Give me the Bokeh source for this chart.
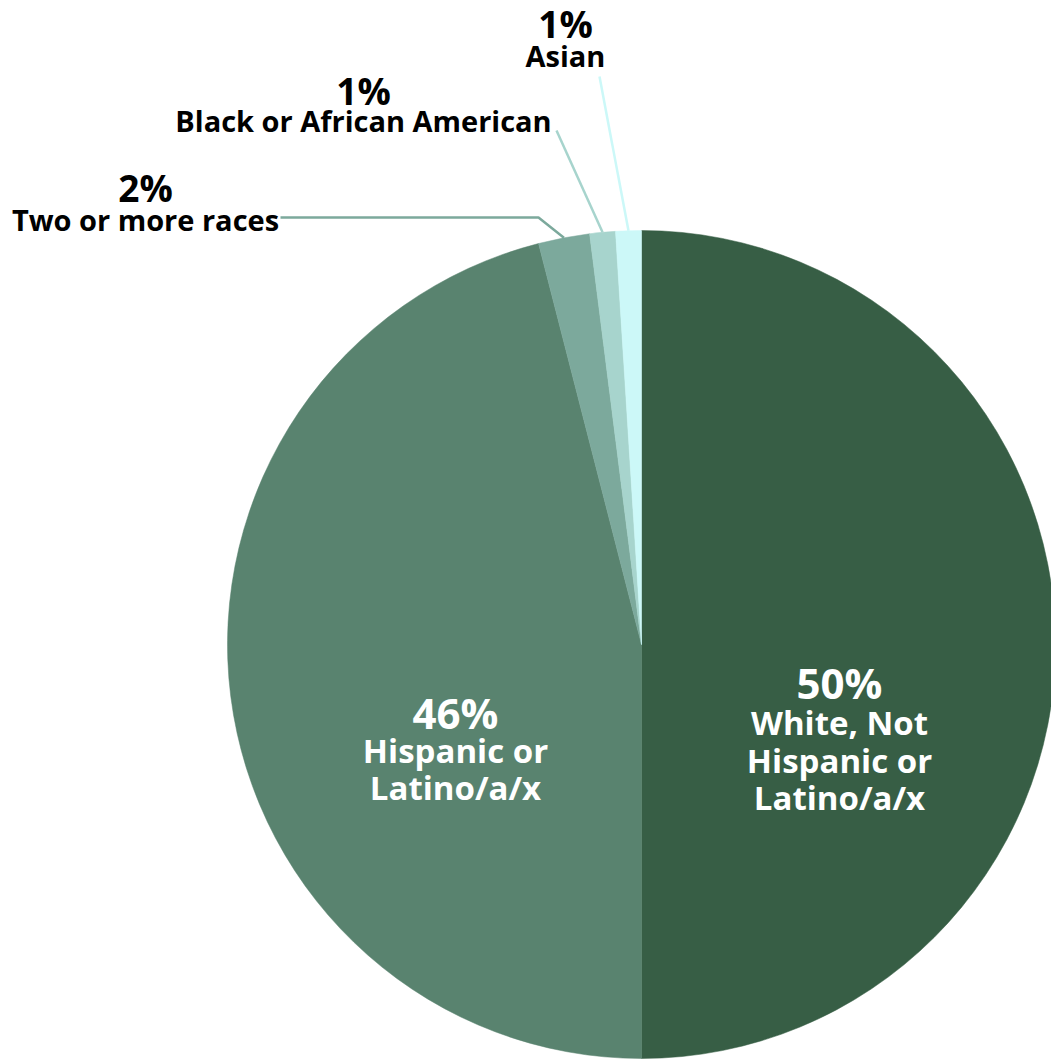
import math
from bokeh.plotting import figure
from bokeh.models import Range1d, ColumnDataSource
from bokeh.core.properties import value
from bokeh.embed import file_html
from bokeh.resources import INLINE

# ---- data ----
categories = ["White, Not Hispanic or Latino/a/x", "Hispanic or Latino/a/x",
              "Two or more races", "Black or African American", "Asian"]
percents = [50, 46, 2, 1, 1]
colors = ["#375E45", "#59836F", "#7CA99C", "#A7D4CD", "#CCF8F8"]

# ---- layout (page pixel coordinates, y measured from top) ----
W, H = 1051, 1059
PAGE_H = 1059
def Y(py):
    return PAGE_H - py

cx, cy, R = 641, Y(644), 414

p = figure(width=W, height=H, output_backend="svg", toolbar_location=None,
           x_range=Range1d(0, W), y_range=Range1d(PAGE_H - H, PAGE_H),
           min_border=0)
p.axis.visible = False
p.grid.visible = False
p.outline_line_color = None
p.background_fill_color = "white"
p.border_fill_color = "white"

total = float(sum(percents))
starts, ends, mids = [], [], []
cum = 0.0
for v in percents:
    a0 = math.pi / 2 - 2 * math.pi * cum / total
    a1 = math.pi / 2 - 2 * math.pi * (cum + v) / total
    starts.append(a0)
    ends.append(a1)
    mids.append((a0 + a1) / 2)
    cum += v

src = ColumnDataSource(dict(start=starts, end=ends, color=colors))
p.wedge(x=cx, y=cy, radius=R, start_angle="start", end_angle="end",
        direction="clock", fill_color="color", line_color="color",
        line_width=0.5, source=src)

def edge(i):
    return cx + R * math.cos(mids[i]), cy + R * math.sin(mids[i])

# leader lines
ex, ey = edge(2)
p.line([ex, 538, 280], [ey, Y(217), Y(217)], line_color=colors[2], line_width=2.5)
ex, ey = edge(3)
p.line([ex, 556], [ey, Y(130)], line_color=colors[3], line_width=2.5)
ex, ey = edge(4)
p.line([ex, 599], [ey, Y(76)], line_color=colors[4], line_width=2.5)

FONT = value("Open Sans")
DY = 13  # baseline correction

def label(x, y, txt, size, color):
    p.text(x=[x], y=[Y(y - DY)], text=[txt], text_font=FONT, text_font_style="bold",
           text_font_size=f"{size}px", text_color=color, text_align="center",
           text_baseline="alphabetic")

pct = [f"{v}%" for v in percents]

# outside labels
label(565, 36, pct[4], 37, "black")
label(565, 68, "Asian", 29, "black")
label(363, 103, pct[3], 37, "black")
label(363, 133, "Black or African American", 29, "black")
label(145, 200, pct[2], 37, "black")
label(145, 232, "Two or more races", 29, "black")

# inside labels
label(839, 695, pct[0], 42, "white")
label(839, 735, "White, Not", 33, "white")
label(839, 773, "Hispanic or", 33, "white")
label(839, 810, "Latino/a/x", 33, "white")

label(455, 725, pct[1], 42, "white")
label(455, 763, "Hispanic or", 33, "white")
label(455, 800, "Latino/a/x", 33, "white")

open("out.html", "w").write(file_html(p, INLINE))
